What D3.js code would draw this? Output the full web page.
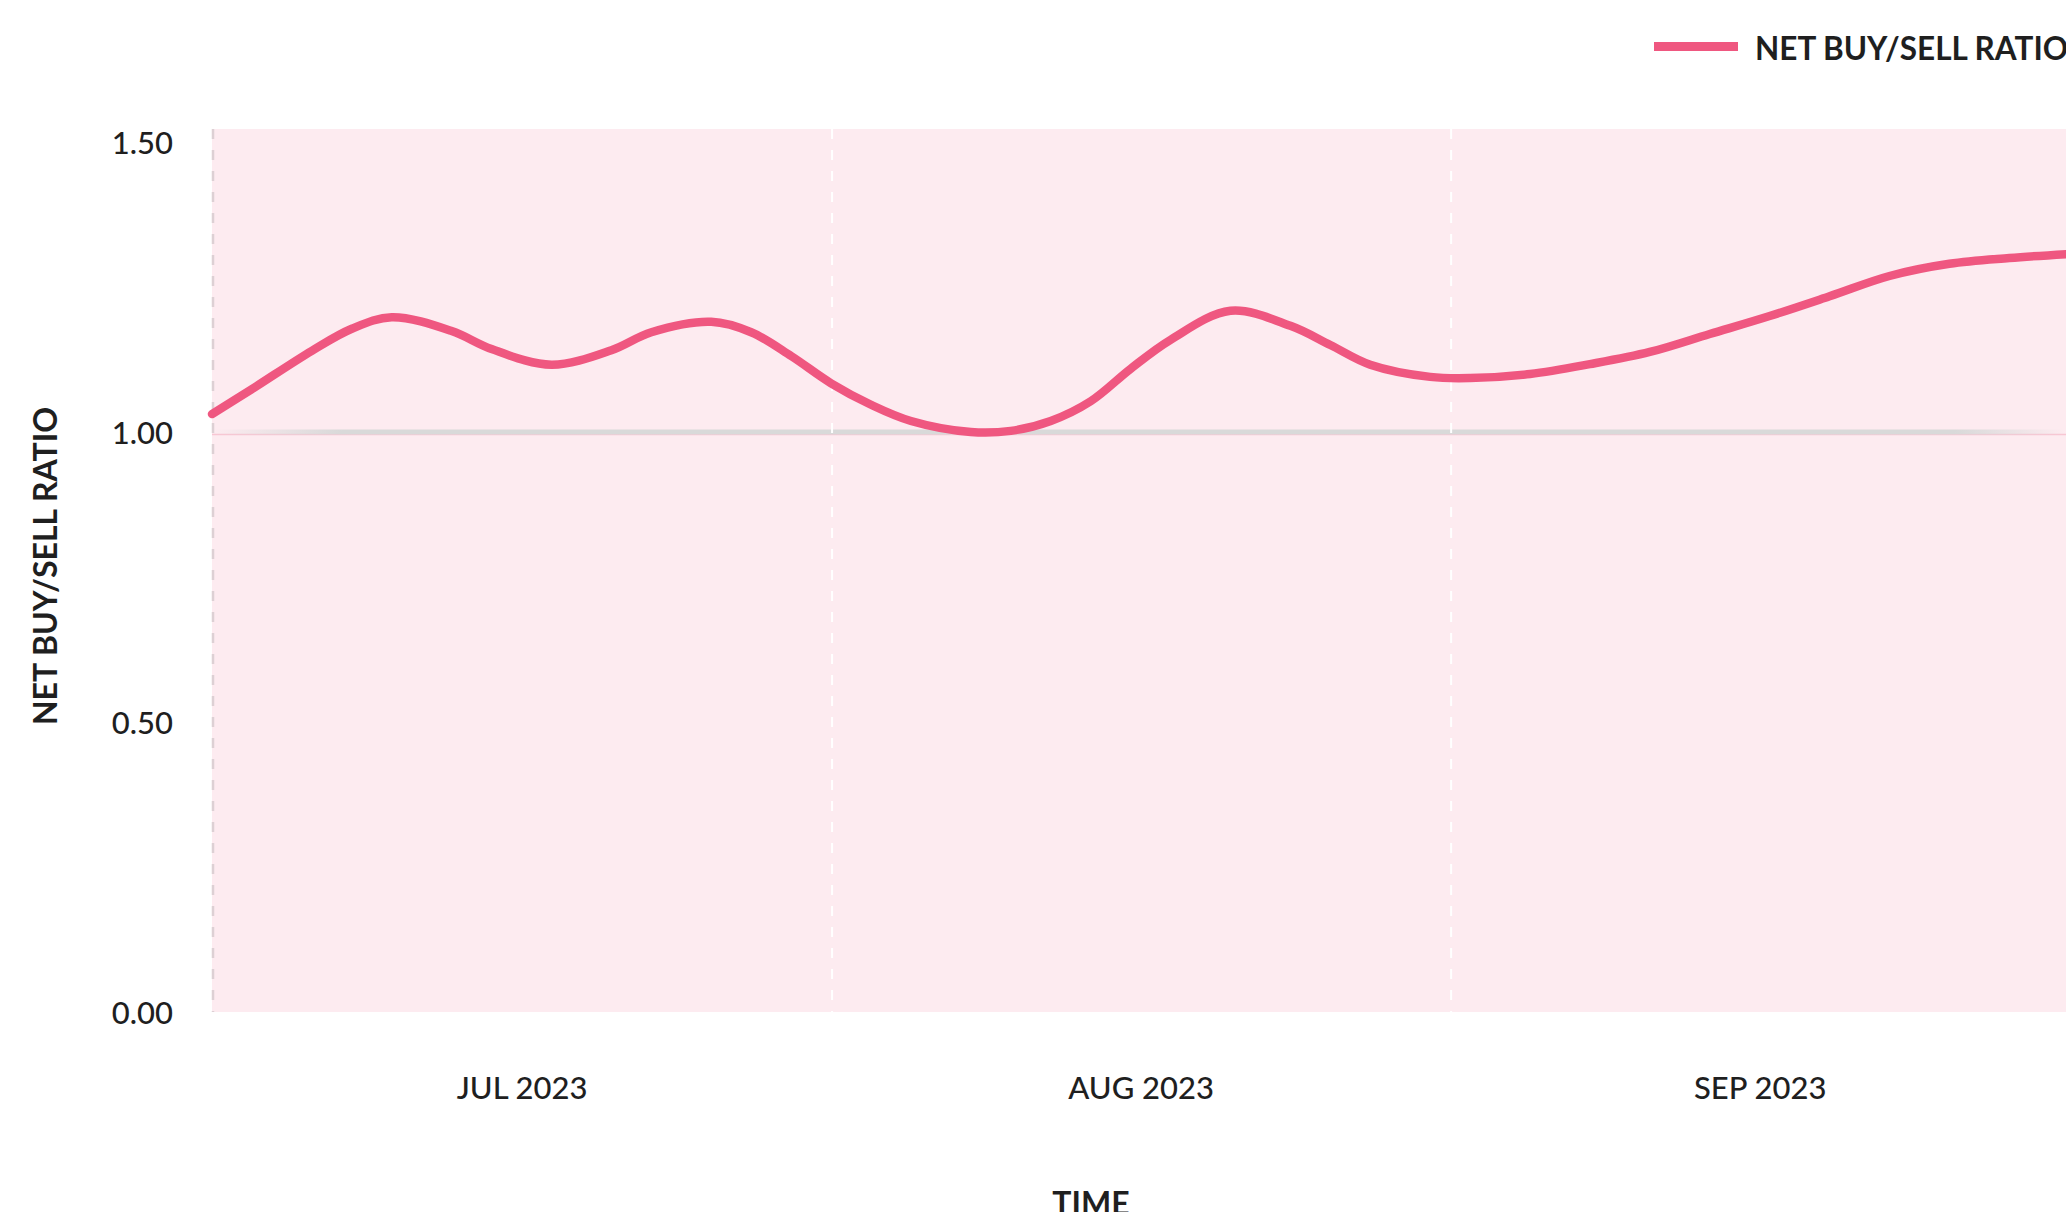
<!DOCTYPE html>
<html>
<head>
<meta charset="utf-8">
<script src="https://cdn.jsdelivr.net/npm/d3@7"></script>
<style>
  html, body { margin: 0; padding: 0; background: #fff; overflow: hidden }
  svg        { display: block; font-family: Lato, "Noto Sans", sans-serif }
  .tick text { fill: #1f1f1f; font-size: 31px; font-weight: 500 }
  .title     { fill: #1f1f1f; font-size: 32px; font-weight: 700 }
  .legend text { font-size: 31.5px }
</style>
</head>
<body>
<script>
// Data
var dates = [
  "2023-07-01", "2023-07-03", "2023-07-06", "2023-07-08", "2023-07-10", "2023-07-13",
  "2023-07-15", "2023-07-18", "2023-07-21", "2023-07-23", "2023-07-26", "2023-07-28",
  "2023-07-30", "2023-08-01", "2023-08-03", "2023-08-05", "2023-08-08", "2023-08-10",
  "2023-08-12", "2023-08-14", "2023-08-16", "2023-08-18", "2023-08-21", "2023-08-24",
  "2023-08-26", "2023-08-28", "2023-08-31", "2023-09-02", "2023-09-05", "2023-09-08",
  "2023-09-11", "2023-09-14", "2023-09-17", "2023-09-20", "2023-09-23", "2023-09-26",
  "2023-09-29", "2023-10-02"
]
var ratio = [
  1.031, 1.074, 1.140, 1.178, 1.198, 1.174,
  1.143, 1.116, 1.141, 1.172, 1.190, 1.172,
  1.131, 1.084, 1.047, 1.019, 1.000, 1.002,
  1.019, 1.053, 1.109, 1.159, 1.209, 1.183,
  1.150, 1.116, 1.095, 1.093, 1.100, 1.117,
  1.138, 1.169, 1.200, 1.234, 1.269, 1.290,
  1.300, 1.307
]
var months     = ["2023-07-01", "2023-08-01", "2023-09-01"] // Gridlines sit on month starts
var yTicks     = [0, 0.5, 1, 1.5]
var seriesName = "NET BUY/SELL RATIO"
var xTitle     = "TIME"
var yTitle     = "NET BUY/SELL RATIO"

var W = 2066,
    H = 1212,
    plotLeft   = 212,
    plotTop    = 129,
    plotBottom = 1012,
    colour     = "#ef5780"

var parseDate = d3.timeParse("%Y-%m-%d"),
    data      = dates.map(function (d, i) { return { date : parseDate(d), val : ratio[i] } }),
    monthDays = months.map(parseDate)

var svg = d3.select("body").append("svg")
            .attr("width", W)
            .attr("height", H)

// Scales: 19.97px per day, Jul 1 on the left edge
var xScale = d3.scaleTime()
               .domain([parseDate("2023-07-01"), parseDate("2023-10-04")])
               .range([plotLeft, plotLeft + 95 * 19.97])
var yScale = d3.scaleLinear()
               .domain([0, 1.5])
               .range([plotBottom, 142])

// Pink plot area
svg.append("rect")
   .attr("x", plotLeft)
   .attr("y", plotTop)
   .attr("width", W - plotLeft)
   .attr("height", plotBottom - plotTop)
   .attr("fill", "#fdebf0")

// Fading baseline at 1.00
var grad = svg.append("defs").append("linearGradient")
              .attr("id", "fade")
grad.selectAll("stop")
    .data([[0, 0], [0.07, 1], [0.94, 1], [1, 0]])
    .enter().append("stop")
      .attr("offset", function (d) { return d[0] })
      .attr("stop-color", "#d9d9d9")
      .attr("stop-opacity", function (d) { return d[1] })
svg.append("line")
   .attr("x1", plotLeft).attr("x2", W)
   .attr("y1", yScale(1) + 2.5).attr("y2", yScale(1) + 2.5)
   .attr("stroke", "#f8c6d3")
   .attr("stroke-width", 1.5)
svg.append("rect")
   .attr("x", plotLeft)
   .attr("y", yScale(1) - 2.5)
   .attr("width", W - plotLeft)
   .attr("height", 5)
   .attr("fill", "url(#fade)")

// Dashed month gridlines
svg.append("g")
   .selectAll("line")
   .data(monthDays)
   .enter().append("line")
     .attr("x1", function (d) { return xScale(d) + 1 })
     .attr("x2", function (d) { return xScale(d) + 1 })
     .attr("y1", plotTop)
     .attr("y2", plotBottom)
     .attr("stroke", function (d, i) { return i ? "#ffffff" : "#ddd0d4" })
     .attr("stroke-width", function (d, i) { return i ? 2 : 2.5 })
     .attr("stroke-dasharray", "10,11")

// Line
var line = d3.line()
             .x(function (d) { return xScale(d.date) })
             .y(function (d) { return yScale(d.val) })
             .curve(d3.curveCatmullRom.alpha(0.5))
svg.append("path")
   .datum(data)
   .attr("d", line)
   .attr("fill", "none")
   .attr("stroke", colour)
   .attr("stroke-width", 8.5)
   .attr("stroke-linecap", "round")
   .attr("stroke-linejoin", "round")

// Y axis (no line, no ticks)
var yAxis = d3.axisLeft(yScale)
              .tickValues(yTicks)
              .tickFormat(d3.format(".2f"))
              .tickSize(0)
              .tickPadding(0)
var gy = svg.append("g")
            .attr("transform", "translate(173,0)")
            .call(yAxis)
            .attr("font-family", null)
            .attr("font-size", null)
gy.select(".domain").remove()
gy.selectAll(".tick text").attr("dy", "0.36em")

// X axis: labels centred in each month
var xAxis = d3.axisBottom(xScale)
              .tickValues(monthDays.map(function (d) { return d3.timeHour.offset(d, 15.5 * 24) }))
              .tickFormat(function (d) { return d3.timeFormat("%b %Y")(d).toUpperCase() })
              .tickSize(0)
              .tickPadding(0)
var gx = svg.append("g")
            .attr("transform", "translate(0,1088)")
            .call(xAxis)
            .attr("font-family", null)
            .attr("font-size", null)
gx.select(".domain").remove()
gx.selectAll(".tick text").attr("dy", "0.36em")

// Axis titles (TIME is cut by the bottom edge, as in the original)
svg.append("text")
   .attr("class", "title")
   .attr("x", 1091)
   .attr("y", 1215)
   .attr("text-anchor", "middle")
   .text(xTitle)
svg.append("text")
   .attr("class", "title")
   .attr("transform", "translate(57,566) rotate(-90)")
   .attr("text-anchor", "middle")
   .text(yTitle)

// Legend
var legend = svg.append("g").attr("class", "legend")
legend.append("rect")
      .attr("x", 1654)
      .attr("y", 42)
      .attr("width", 84)
      .attr("height", 9)
      .attr("fill", colour)
legend.append("text")
      .attr("class", "title")
      .attr("x", 1755)
      .attr("y", 60)
      .text(seriesName)
</script>
</body>
</html>
